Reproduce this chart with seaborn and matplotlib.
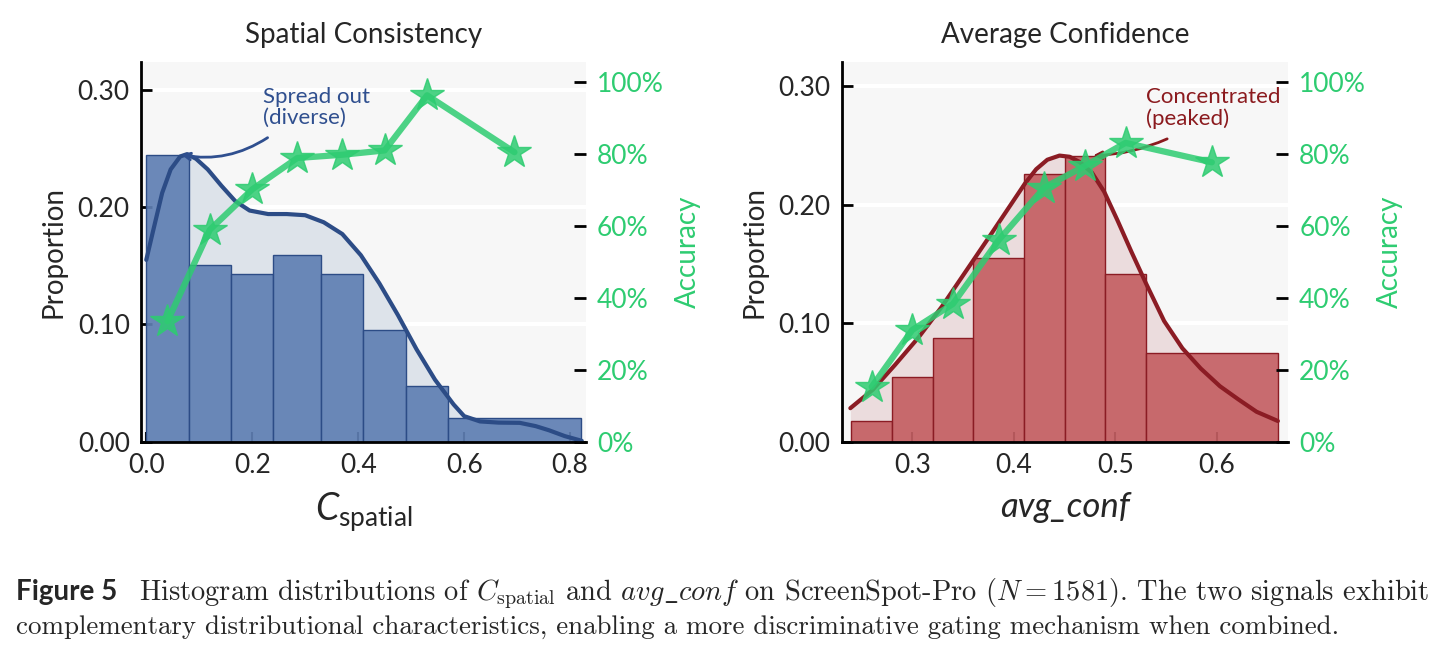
import matplotlib
matplotlib.use("Agg")
import matplotlib.pyplot as plt
import seaborn as sns
from matplotlib import font_manager
from matplotlib.ticker import PercentFormatter, FormatStrFormatter

# ---- values ----
spatial_edges = [0.00, 0.08, 0.16, 0.24, 0.33, 0.41, 0.49, 0.57, 0.82]
spatial_prop = [0.244, 0.151, 0.143, 0.159, 0.143, 0.095, 0.048, 0.020]
spatial_acc = [0.335, 0.589, 0.701, 0.788, 0.797, 0.809, 0.962, 0.804]
spatial_kde_x = [0.000, 0.012, 0.030, 0.046, 0.064, 0.077, 0.094, 0.116, 0.142, 0.168,
                 0.195, 0.230, 0.265, 0.300, 0.335, 0.370, 0.405, 0.440, 0.475, 0.510,
                 0.545, 0.580, 0.600, 0.630, 0.665, 0.705, 0.735, 0.760, 0.790, 0.822]
spatial_kde_y = [0.155, 0.178, 0.212, 0.232, 0.243, 0.245, 0.241, 0.232, 0.218, 0.205,
                 0.197, 0.194, 0.194, 0.193, 0.187, 0.177, 0.159, 0.135, 0.108, 0.079,
                 0.053, 0.032, 0.022, 0.0175, 0.0165, 0.0163, 0.0135, 0.010, 0.005, 0.001]

conf_edges = [0.24, 0.28, 0.32, 0.36, 0.41, 0.45, 0.49, 0.53, 0.66]
conf_prop = [0.018, 0.055, 0.088, 0.155, 0.226, 0.241, 0.142, 0.075]
conf_acc = [0.153, 0.311, 0.383, 0.560, 0.706, 0.766, 0.830, 0.776]
conf_kde_x = [0.239, 0.261, 0.283, 0.306, 0.329, 0.352, 0.375, 0.393, 0.411, 0.422,
              0.433, 0.445, 0.455, 0.465, 0.477, 0.489, 0.502, 0.516, 0.530, 0.548,
              0.566, 0.584, 0.603, 0.621, 0.639, 0.660]
conf_kde_y = [0.0285, 0.044, 0.065, 0.088, 0.114, 0.143, 0.172, 0.195, 0.218, 0.230,
              0.238, 0.2415, 0.2405, 0.236, 0.227, 0.211, 0.187, 0.160, 0.134, 0.102,
              0.079, 0.062, 0.047, 0.036, 0.0255, 0.0177]

GREEN = "#2ecc71"


def pick_font(cands):
    names = {f.name for f in font_manager.fontManager.ttflist}
    for c in cands:
        if c in names:
            return c
    return "DejaVu Sans"


sns.set_theme(style="ticks")
FONT = pick_font(["Lato", "Open Sans", "DejaVu Sans"])
plt.rcParams["font.family"] = [FONT, "DejaVu Sans"]
plt.rcParams["mathtext.fontset"] = "custom"
plt.rcParams["mathtext.rm"] = FONT
plt.rcParams["mathtext.it"] = FONT + ":italic"


def draw_panel(ax, edges, prop, acc, kde_x, kde_y, bar_c, edge_c, line_c, fill_c,
               xlim, ylim, xticks, title, xlabel, xlabel_size, xlabel_style):
    centers = [(a + b) / 2 for a, b in zip(edges[:-1], edges[1:])]

    ax.set_facecolor("#f7f7f7")
    ax.set_xlim(xlim)
    ax.set_ylim(ylim)
    ax.set_yticks([0.0, 0.1, 0.2, 0.3])
    ax.set_xticks(xticks)
    # white horizontal grid, kept under the kde fill
    for yv in ax.get_yticks()[1:]:
        ax.axhline(yv, color="white", lw=3, zorder=0.2)
    ax.set_axisbelow("line")

    ax.fill_between(kde_x, kde_y, color=fill_c, lw=0, zorder=0.9)
    sns.histplot(x=centers, weights=prop, bins=edges, color=bar_c, edgecolor=edge_c,
                 linewidth=1, alpha=0.92, ax=ax, zorder=2)
    sns.lineplot(x=kde_x, y=kde_y, color=line_c, lw=3, ax=ax, zorder=3)

    ax.yaxis.set_major_formatter(FormatStrFormatter("%.2f"))
    ax.xaxis.set_major_formatter(FormatStrFormatter("%.1f"))
    ax.tick_params(direction="in", length=8, width=2, labelsize=19, pad=8, color="black")
    ax.tick_params(axis="x", length=7, width=1.5)
    for s in ["top", "right"]:
        ax.spines[s].set_visible(False)
    for s in ["left", "bottom"]:
        ax.spines[s].set_color("black")
        ax.spines[s].set_linewidth(2)
    ax.set_ylabel("Proportion", fontsize=20, labelpad=8)
    ax.set_xlabel(xlabel, fontsize=xlabel_size, fontstyle=xlabel_style, labelpad=9)
    ax.set_title(title, fontsize=20, pad=14)

    tw = ax.twinx()
    sns.lineplot(x=centers, y=acc, ax=tw, color=GREEN, lw=4.5, marker="*",
                 markersize=25, markeredgecolor=GREEN, markeredgewidth=1, alpha=0.85)
    tw.set_ylim(0, 1.053)
    tw.set_yticks([0.0, 0.2, 0.4, 0.6, 0.8, 1.0])
    tw.yaxis.set_major_formatter(PercentFormatter(1.0, decimals=0))
    tw.tick_params(axis="y", direction="in", length=9, width=2, color="black",
                   labelcolor=GREEN, labelsize=19, pad=8)
    tw.set_ylabel("Accuracy", color=GREEN, fontsize=20, labelpad=8)
    for s in tw.spines.values():
        s.set_visible(False)
    return tw


fig = plt.figure(figsize=(14.43, 6.55), dpi=100)
ax_l = fig.add_axes([0.0977, 0.3252, 0.3084, 0.5794])
ax_r = fig.add_axes([0.5833, 0.3252, 0.3093, 0.5794])

draw_panel(ax_l, spatial_edges, spatial_prop, spatial_acc, spatial_kde_x, spatial_kde_y,
           "#5f7fb3", "#2c4c86", "#2c4c86", "#dde3ea",
           (-0.01, 0.83), (0, 0.323), [0.0, 0.2, 0.4, 0.6, 0.8],
           "Spatial Consistency", r"$C_{\mathrm{spatial}}$", 27, "normal")
draw_panel(ax_r, conf_edges, conf_prop, conf_acc, conf_kde_x, conf_kde_y,
           "#c45f63", "#8b1c24", "#8b1c24", "#ebdcdd",
           (0.2305, 0.67), (0, 0.32), [0.3, 0.4, 0.5, 0.6],
           "Average Confidence", "avg_conf", 25, "italic")

# annotations
navy = "#2f4f8f"
dred = "#8b1a1e"
ax_l.text(0.221, 0.302, "Spread out\n(diverse)", color=navy, fontsize=16,
          ha="left", va="top", linespacing=1.05, zorder=4)
ax_l.annotate("", xy=(0.066, 0.2445), xytext=(0.229, 0.259),
              arrowprops=dict(arrowstyle="->", color=navy, lw=2,
                              connectionstyle="arc3,rad=-0.2", shrinkA=0, shrinkB=0))
ax_r.text(0.530, 0.299, "Concentrated\n(peaked)", color=dred, fontsize=16,
          ha="left", va="top", linespacing=1.05, zorder=4)
ax_r.annotate("", xy=(0.478, 0.2416), xytext=(0.551, 0.2556),
              arrowprops=dict(arrowstyle="->", color=dred, lw=2,
                              connectionstyle="arc3,rad=-0.1", shrinkA=0, shrinkB=0))

# caption
fig.text(16 / 1443, 1 - 600 / 655, "Figure 5", fontsize=20, fontweight="bold",
         family=[FONT, "DejaVu Sans"], va="baseline")
fig.text(139 / 1443, 1 - 600 / 655,
         r"Histogram distributions of $C_{\mathrm{spatial}}$ and $avg\_conf$ on "
         r"ScreenSpot-Pro ($N = 1581$). The two signals exhibit",
         fontsize=20.5, family="cmr10", math_fontfamily="cm", va="baseline")
fig.text(16 / 1443, 1 - 634 / 655,
         "complementary distributional characteristics, enabling a more "
         "discriminative gating mechanism when combined.",
         fontsize=19.4, family="cmr10", math_fontfamily="cm", va="baseline")

fig.savefig("out.png", dpi=100)
